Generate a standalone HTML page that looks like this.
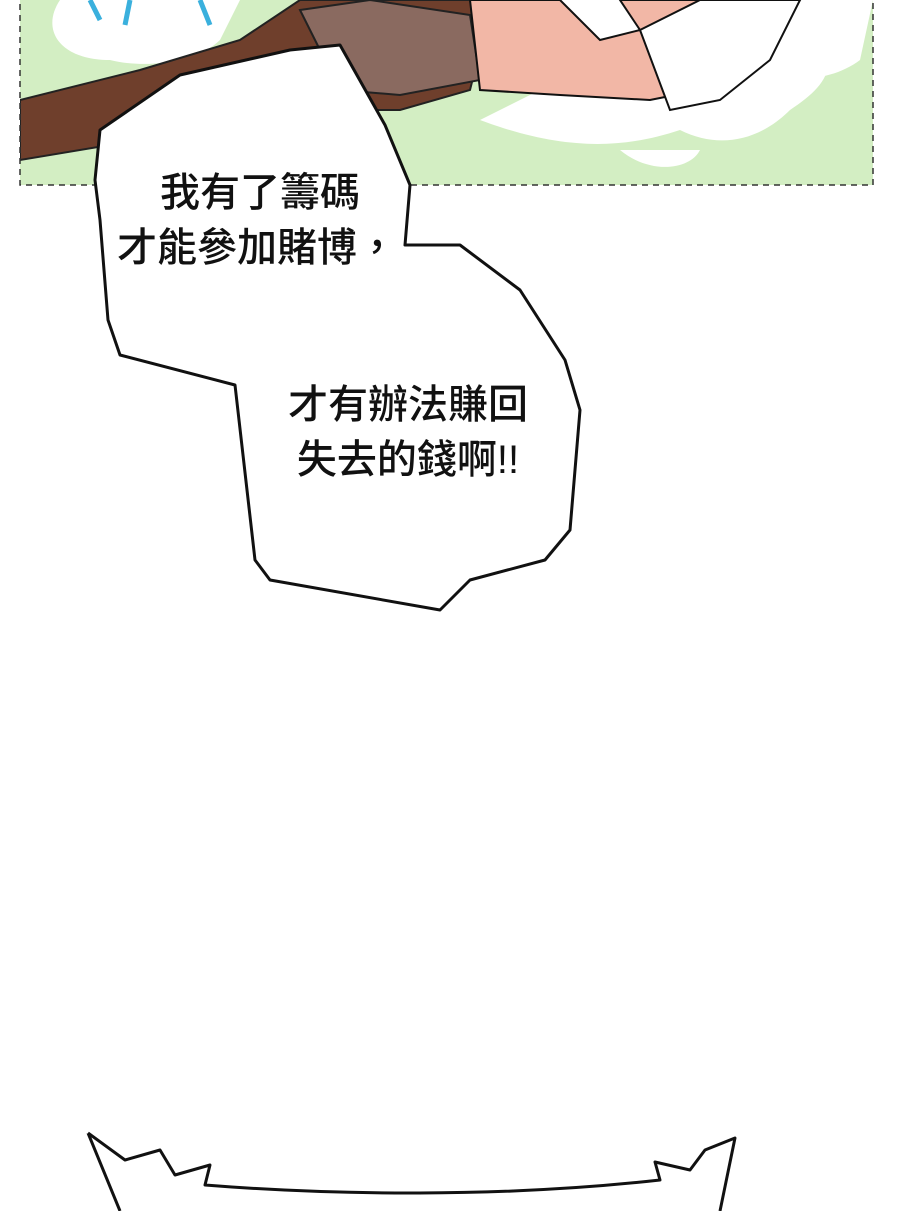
<!DOCTYPE html>
<html><head><meta charset="utf-8"><style>
html,body{margin:0;padding:0;background:#fff;}
svg{display:block}
text{font-family:"Liberation Sans","Noto Sans CJK TC",sans-serif;font-size:40px;font-weight:500;fill:#111;text-anchor:middle}
</style></head><body>
<svg width="900" height="1211" viewBox="0 0 900 1211">
<defs><clipPath id="p"><rect x="20" y="0" width="853" height="185"/></clipPath></defs>
<g clip-path="url(#p)">
<rect x="20" y="0" width="853" height="185" fill="#d3eec3"/>
<path d="M60 0 C40 30 60 60 110 60 C150 70 200 60 220 40 L240 0Z" fill="#fff"/>
<path d="M500 20 C560 40 640 60 700 60 C760 80 820 90 860 60 L873 0 L500 0Z" fill="#fff"/>
<path d="M480 120 C560 150 620 150 680 130 C720 150 760 140 790 110 C820 90 840 70 820 40 L600 60Z" fill="#fff"/>
<path d="M620 150 C650 175 690 170 700 150Z" fill="#fff"/>
<path d="M20 100 L140 70 L240 40 L300 0 L470 0 L480 50 L470 90 L400 110 L330 110 L250 120 L140 140 L20 160Z" fill="#6f3f2c" stroke="#222" stroke-width="2"/>
<path d="M300 10 L370 0 L470 15 L480 80 L400 95 L340 90Z" fill="#8a6a60" stroke="#222" stroke-width="2"/>
<path d="M470 0 L560 0 L600 40 L640 30 L620 0 L800 0 L760 60 L700 90 L650 100 L560 95 L480 90Z" fill="#f2b7a6" stroke="#111" stroke-width="2"/>
<path d="M640 30 L700 0 L800 0 L770 60 L720 100 L670 110Z" fill="#fff" stroke="#111" stroke-width="2"/>
<path d="M90 0 L100 20 M130 0 L125 25 M200 0 L210 25" stroke="#3ab0dd" stroke-width="5" fill="none"/>
</g>
<rect x="20" y="-2" width="853" height="187" fill="none" stroke="#333" stroke-width="1.5" stroke-dasharray="6,5"/>
<path d="M100 130 L180 75 L290 50 L340 45 L385 125 L410 185 L405 245 L460 245 L520 290 L565 360 L580 410 L570 530 L545 560 L470 580 L440 610 L270 580 L255 560 L235 385 L120 355 L108 320 L100 220 L95 180Z" fill="#fff" stroke="#111" stroke-width="3" stroke-linejoin="round"/>
<text x="260" y="206">我有了籌碼</text>
<text x="257" y="261">才能參加賭博，</text>
<text x="408" y="418">才有辦法賺回</text>
<text x="408" y="473">失去的錢啊!!</text>
<path d="M88 1133 L125 1160 L160 1150 L175 1175 L210 1165 L205 1185 C330 1195 500 1198 660 1180 L655 1162 L690 1170 L705 1150 L735 1138 L720 1211 M88 1133 L120 1211" fill="#fff" stroke="#111" stroke-width="3" stroke-linejoin="round"/>
</svg>
</body></html>
